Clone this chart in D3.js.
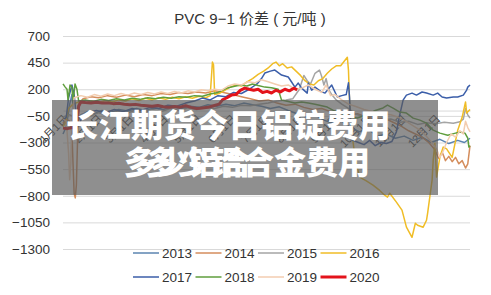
<!DOCTYPE html>
<html>
<head>
<meta charset="utf-8">
<script src="https://cdn.jsdelivr.net/npm/d3@7"></script>
<style>
body { margin: 0; background: #fff; }
svg text { font-family: "Liberation Sans", "Noto Sans CJK SC", sans-serif; }
.cap { font-family: "Noto Sans CJK SC", sans-serif !important; font-weight: 900; fill: #fff; }
</style>
</head>
<body>
<svg id="chart" width="491" height="295"></svg>
<script>
// PVC 9-1 spread by year, points are [day of year, value]
const years = ["2013", "2014", "2015", "2016", "2017", "2018", "2019", "2020"];
const colors = ["#5b84b1", "#d48d5c", "#a5a5a5", "#f0bd26", "#3b5ea9", "#5f9e3c", "#f3cdb0", "#e3131b"];

const yTicks = [700, 450, 200, -50, -300, -550, -800, -1050, -1300];
const monthDays = [0, 31, 59, 90, 120, 151, 181, 212, 243, 273, 304, 334];
const monthLabels = ["1月1日", "2月1日", "3月1日", "4月1日", "5月1日", "6月1日",
	"7月1日", "8月1日", "9月1日", "10月1日", "11月1日", "12月1日"];

const s2013 = [[0,-220],[3,-150],[6,60],[8,150],[10,-60],[13,-120],[16,-40],[22,-10],[28,-30],[35,0],[42,-20],[50,10],[58,-5],[66,20],[74,0],[82,25],[90,10],[98,35],[106,20],[114,40],[122,30],[130,55],[138,40],[146,60],[154,45],[162,70],[170,55],[178,40],[186,20],[194,35],[202,0],[210,-30],[218,-60],[226,-40],[234,-90],[242,-120],[250,-100],[258,-160],[266,-200],[274,-180],[282,-240],[290,-220],[298,-260],[306,-240],[314,-280],[322,-250],[330,-300],[338,-270],[346,-310],[354,-280],[360,-300],[365,-260]];
const s2014 = [[0,-120],[3,-80],[6,-100],[8,-200],[9,-500],[10,-780],[11,-820],[12,-700],[13,-300],[14,60],[18,110],[25,130],[32,120],[40,140],[48,125],[56,145],[64,130],[72,150],[80,140],[88,160],[96,150],[104,170],[112,160],[120,175],[128,165],[136,185],[144,170],[152,150],[160,130],[168,110],[176,90],[184,100],[192,70],[200,50],[208,60],[216,30],[224,10],[232,20],[240,-10],[248,-20],[256,-40],[264,-30],[272,-60],[280,-80],[288,-70],[296,-110],[304,-150],[310,-190],[316,-220],[322,-250],[328,-300],[333,-360],[337,-450],[340,-390],[343,-470],[346,-430],[349,-480],[352,-440],[355,-500],[358,-470],[361,-540],[363,-500],[365,-330]];
const s2015 = [[0,-60],[6,-40],[12,-70],[18,-30],[25,-50],[32,-20],[40,-40],[48,-10],[56,-30],[64,0],[72,-20],[80,10],[88,-10],[96,20],[104,0],[112,25],[120,10],[128,30],[136,20],[144,40],[152,30],[160,50],[168,45],[176,60],[184,70],[192,90],[200,100],[206,110],[212,200],[216,330],[219,280],[222,250],[226,350],[230,380],[232,320],[234,240],[236,300],[238,200],[241,150],[245,100],[250,60],[256,20],[262,-30],[270,-60],[278,-50],[286,-90],[294,-80],[302,-110],[310,-100],[318,-130],[326,-115],[334,-125],[342,-110],[350,-120],[356,-105],[359,-80],[361,20],[363,-40],[365,-70]];
const s2016 = [[0,-150],[2,-120],[5,20],[9,60],[14,80],[20,70],[26,90],[32,75],[38,95],[44,80],[50,100],[56,90],[62,110],[68,95],[74,115],[80,100],[86,120],[92,105],[98,125],[104,110],[110,130],[116,115],[122,135],[128,120],[132,140],[134,455],[135,430],[136,150],[140,160],[145,190],[150,220],[155,240],[160,230],[165,270],[170,300],[175,340],[180,370],[184,400],[188,440],[191,455],[194,420],[197,440],[201,400],[205,410],[209,370],[213,330],[217,280],[221,250],[225,240],[229,280],[233,300],[237,350],[241,390],[245,420],[249,420],[252,460],[255,500],[256,380],[257,80],[259,-200],[262,-450],[266,-625],[272,-660],[278,-700],[284,-750],[288,-790],[291,-813],[293,-776],[299,-860],[304,-935],[308,-1095],[313,-1190],[316,-1058],[318,-1077],[323,-1095],[326,-1030],[327,-964],[331,-654],[332,-466],[333.5,-306],[335,-625],[338,-437],[341,-343],[344,-360],[349,-440],[354,-184],[358,-61],[361,80],[362,-24],[365,10]];
const s2017 = [[0,-100],[3,-60],[5,120],[8,240],[10,150],[12,-60],[14,-150],[17,-60],[22,-20],[30,0],[38,-20],[46,10],[54,-10],[62,20],[70,0],[78,30],[86,20],[94,50],[102,40],[110,70],[118,90],[125,117],[132,100],[139,140],[146,130],[153,170],[160,160],[167,200],[174,250],[178,300],[181,352],[186,370],[190,380],[196,333],[202,315],[205,268],[208,220],[211,258],[214,211],[219,164],[220,258],[223,192],[226,220],[231,180],[235,164],[241,239],[246,127],[250,140],[254,150],[256,260],[257,120],[258,-150],[260,-280],[265,-300],[270,-320],[275,-280],[280,-330],[285,-300],[290,-310],[295,-290],[299,-200],[302,-40],[305,98],[308,145],[313,164],[317,145],[322,174],[326,164],[332,145],[336,164],[340,127],[344,117],[350,127],[354,127],[359,145],[362,192],[363,220],[365,240]];
const s2018 = [[0,250],[2,220],[3.6,200],[4.5,100],[6.3,240],[8,220],[9,80],[10.8,250],[12.5,200],[14,90],[20,100],[27,85],[34,105],[41,95],[48,110],[55,100],[62,115],[69,105],[76,120],[83,110],[90,125],[97,115],[104,130],[111,125],[118,140],[125,135],[132,155],[139,170],[147,211],[153,225],[159,239],[165,230],[170,250],[175,235],[181,220],[187,215],[193,200],[196,98],[202,85],[208,70],[214,80],[220,70],[226,60],[232,45],[237,33],[242,4],[248,-20],[257,-60],[264,-70],[272,-40],[280,0],[287,24],[291,51],[296,23],[302,-14],[308,-24],[314,-71],[320,-90],[326,-118],[332,-184],[338,-212],[345,-231],[352,-212],[356,-202],[360.5,-212],[363,-259],[364,-343],[365,-330]];
const s2019 = [[0,-80],[3,-100],[5,-400],[6,-650],[7,-500],[8,-100],[10,120],[16,140],[22,125],[28,150],[34,135],[40,155],[46,140],[52,160],[58,145],[64,165],[70,150],[76,170],[82,155],[88,175],[94,160],[100,180],[106,165],[112,185],[118,175],[124,195],[130,185],[136,200],[142,190],[148,230],[154,250],[160,240],[166,270],[172,260],[178,290],[184,270],[190,250],[196,230],[202,240],[208,200],[214,210],[220,240],[226,200],[232,170],[236,240],[240,140],[244,150],[250,100],[256,60],[262,40],[270,10],[278,-10],[286,-30],[294,-40],[300,-60],[306,-90],[312,-130],[318,-170],[324,-220],[330,-290],[335,-360],[338,-440],[341,-380],[344,-300],[348,-220],[352,-250],[356,-190],[359,-220],[361,-100],[363,-160],[365,-200]];
const s2020 = [[0,-165],[4,-170],[8,-160],[12,-165],[14,40],[16,80],[20,75],[25,70],[30,78],[35,70],[40,72],[45,65],[50,68],[55,60],[60,55],[65,58],[70,50],[75,45],[80,40],[85,48],[90,35],[95,30],[100,38],[105,32],[110,45],[115,30],[120,20],[125,25],[130,30],[135,45],[140,60],[143,100],[147,120],[151,145],[155,150],[159,190],[163,211],[167,200],[171,190],[175,200],[179,170],[183,180],[187,165],[191,190],[195,175],[199,200],[203,185],[207,210],[210,195]];

const seriesValues = [s2013, s2014, s2015, s2016, s2017, s2018, s2019, s2020];

let svg = d3.select("#chart");

let x = d3.scaleLinear().domain([0, 365]).range([63, 470]);
let y = d3.scaleLinear().domain([-1300, 700]).range([249, 36]);

// title
svg.append("text").attr("x", 250).attr("y", 24).attr("text-anchor", "middle")
	.style("font-size", "15px").style("fill", "#333").text("PVC 9−1 价差 ( 元/吨 )");

// y grid + labels
let yAxis = svg.append("g").attr("transform", "translate(63,0)")
	.call(d3.axisLeft(y).tickValues(yTicks).tickSize(-(470 - 63)).tickPadding(13).tickFormat(d3.format("d")));
yAxis.select(".domain").remove();
yAxis.selectAll("line").attr("stroke", "#d9d9d9");
yAxis.selectAll("text").style("font-size", "13.5px").style("fill", "#333");

// month axis at zero
let xAxis = svg.append("g").attr("transform", "translate(0," + y(0) + ")")
	.call(d3.axisBottom(x).tickValues(monthDays).tickSize(0).tickFormat((d, i) => monthLabels[i]));
xAxis.select(".domain").attr("stroke", "#d9d9d9");
xAxis.selectAll("text").attr("y", 0).attr("dy", null)
	.attr("text-anchor", "end").attr("transform", "translate(5,9) rotate(-45)")
	.style("font-size", "11px").style("fill", "#404040");

// lines
let line = d3.line().x(d => x(d[0])).y(d => y(d[1]));
svg.append("g").selectAll("path").data(seriesValues).enter().append("path")
	.attr("d", line).attr("fill", "none")
	.attr("stroke", (d, i) => colors[i])
	.attr("stroke-width", (d, i) => i == 7 ? 3 : 1.5)
	.attr("stroke-linejoin", "round");

// legend, two rows of four
let legend = svg.append("g").selectAll("g").data(years).enter().append("g")
	.attr("transform", (d, i) => "translate(" + (133 + (i % 4) * 62.5) + "," + (253 + Math.floor(i / 4) * 24) + ")");
legend.append("line").attr("x1", 0).attr("x2", 26).attr("y1", 0).attr("y2", 0)
	.attr("stroke", (d, i) => colors[i]).attr("stroke-width", (d, i) => i == 7 ? 3 : 1.5);
legend.append("text").attr("x", 29).attr("y", 0).attr("dy", "0.35em")
	.style("font-size", "13.5px").style("fill", "#333").text(d => d);

// grey caption band over the plot
svg.append("rect").attr("x", 52).attr("y", 100).attr("width", 386).attr("height", 95)
	.attr("fill", "#5a5a5a").attr("opacity", 0.68);
svg.append("text").attr("class", "cap").attr("x", 66).attr("y", 137)
	.style("font-size", "32px").style("letter-spacing", "0.5px").text("长江期货今日铝锭费用");
svg.append("text").attr("class", "cap").attr("x", 124).attr("y", 174)
	.style("font-size", "32px").text("多少铝合");
svg.append("text").attr("class", "cap").attr("x", 146).attr("y", 174)
	.style("font-size", "32px").text("多少铝合金费用");
</script>
</body>
</html>
